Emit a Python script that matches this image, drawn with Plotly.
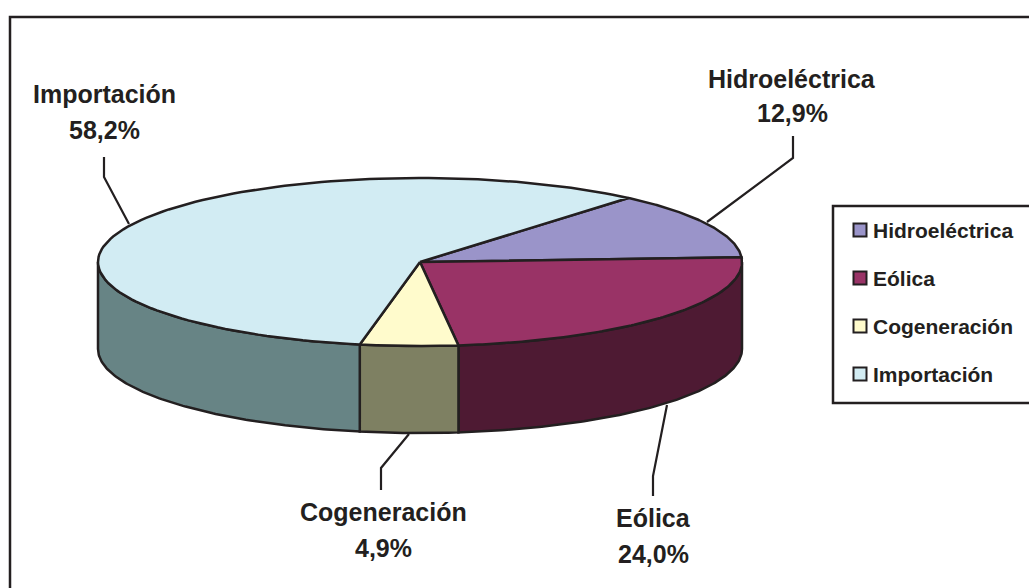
import numpy as np
import plotly.graph_objects as go

# Data
categories = ["Hidroeléctrica", "Eólica", "Cogeneración", "Importación"]
values = [12.9, 24.0, 4.9, 58.2]
value_labels = ["12,9%", "24,0%", "4,9%", "58,2%"]
top_colors = ["#9A94C9", "#993366", "#FFFBCC", "#D2ECF3"]
side_colors = ["#4D4A65", "#4E1A33", "#7E8062", "#678485"]

# Pie geometry in page pixels
CX, CY = 420, 262
RX, RY = 322, 84
DEPTH = 87
START_ANGLE = 49.7
LINE = "#231F20"
FONT = "Liberation Sans, Arial, sans-serif"

# x centre, y of name line, y of value line
label_pos = [(792, 79, 113), (653, 518, 554), (383, 512, 548), (104, 94, 130)]
leaders = [
    ([707, 793, 793], [222, 158, 136]),
    ([667, 653, 653], [405, 476, 496]),
    ([409, 381, 381], [434, 468, 490]),
    ([129, 104, 104], [224, 177, 157]),
]
legend_y = [230, 278, 326, 374]


def ellipse(a0, a1, extra=0):
    t = np.radians(np.linspace(a0, a1, 120))
    return CX + RX * np.cos(t), CY - RY * np.sin(t) + extra


fig = go.Figure()


def poly(x, y, color, width=2.5):
    fig.add_trace(go.Scatter(x=list(x), y=list(y), mode="lines", fill="toself",
                             fillcolor=color, line=dict(color=LINE, width=width),
                             hoverinfo="skip", showlegend=False))


# Slice angles, clockwise from the start angle
sweeps = np.array(values) / sum(values) * 360
ends = START_ANGLE - np.cumsum(sweeps)
starts = ends + sweeps

# Side walls first, only the part that faces the viewer
for a0, a1, color in zip(starts, ends, side_colors):
    for shift in (0, -360):
        hi = min(a0 + shift, 0)
        lo = max(a1 + shift, -180)
        if hi > lo:
            x1, y1 = ellipse(hi, lo)
            x2, y2 = ellipse(lo, hi, DEPTH)
            poly(np.r_[x1, x2, x1[0]], np.r_[y1, y2, y1[0]], color)

# Top faces
for a0, a1, color in zip(starts, ends, top_colors):
    x, y = ellipse(a0, a1)
    poly(np.r_[CX, x, CX], np.r_[CY, y, CY], color)

# Leader lines
for lx, ly in leaders:
    fig.add_trace(go.Scatter(x=lx, y=ly, mode="lines", line=dict(color=LINE, width=2.2),
                             hoverinfo="skip", showlegend=False))

# Data labels, one annotation per line to hold the spacing
for cat, val, (lx, y1, y2) in zip(categories, value_labels, label_pos):
    for text, ly in ((cat, y1), (val, y2)):
        fig.add_annotation(x=lx, y=ly, text=f"<b>{text}</b>", showarrow=False,
                           font=dict(family=FONT, size=25, color=LINE))

# Legend
fig.add_trace(go.Scatter(x=[860] * 4, y=legend_y, mode="markers",
                         marker=dict(symbol="square", size=13, color=top_colors,
                                     line=dict(color=LINE, width=2)),
                         hoverinfo="skip", showlegend=False))
for cat, ly in zip(categories, legend_y):
    fig.add_annotation(x=871, y=ly, text=f"<b>{cat}</b>", showarrow=False, xanchor="left",
                       font=dict(family=FONT, size=21, color=LINE))

# Frames
fig.add_shape(type="rect", x0=10, y0=17, x1=1040, y1=600, line=dict(color=LINE, width=2.5))
fig.add_shape(type="rect", x0=833, y0=206, x1=1040, y1=403, line=dict(color=LINE, width=2.5),
              fillcolor="white", layer="below")

fig.update_layout(
    width=1029,
    height=588,
    margin=dict(l=0, r=0, t=0, b=0),
    paper_bgcolor="white",
    plot_bgcolor="white",
    showlegend=False,
    xaxis=dict(range=[0, 1029], visible=False, fixedrange=True),
    yaxis=dict(range=[588, 0], visible=False, fixedrange=True),
)

# Drop the page margin so the frame runs to the window edge
fig.write_html("out.html", config={"displayModeBar": False},
               post_script="document.body.style.margin = '0';")
